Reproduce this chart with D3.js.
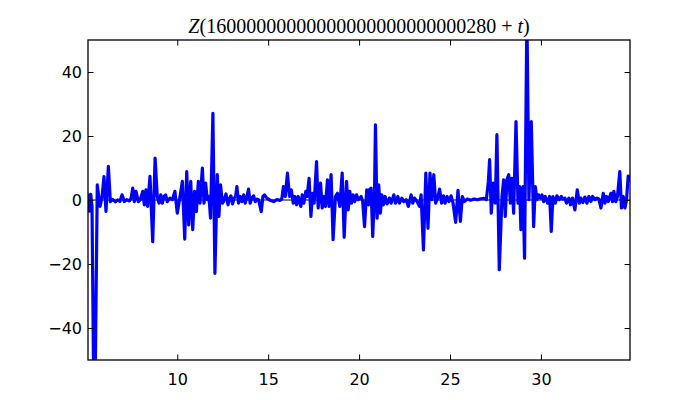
<!DOCTYPE html>
<html>
<head>
<meta charset="utf-8">
<script src="https://cdn.jsdelivr.net/npm/d3@7"></script>
<style>
  html, body { margin: 0; padding: 0; background: #fff; }
  svg { display: block; }
</style>
</head>
<body>
<svg id="chart" width="700" height="400"></svg>
<script>
// ---- data ----
const titleDigits = "16000000000000000000000000280";
const xTicks = [10, 15, 20, 25, 30];
const yTicks = [-40, -20, 0, 20, 40];
const xDomain = [5.09, 34.9];
const yDomain = [-50, 50];

const tValues = [
  5.09, 5.17, 5.24, 5.31, 5.44, 5.60, 5.75, 5.86, 5.97, 6.08, 6.21, 6.32, 6.45, 6.60, 6.72, 6.85, 6.96, 7.09, 7.22, 7.37,
  7.46, 7.55, 7.64, 7.73, 7.86, 7.97, 8.10, 8.19, 8.28, 8.37, 8.50, 8.65, 8.78,
  8.90, 9.00, 9.09, 9.18, 9.27, 9.36, 9.45, 9.59, 9.73, 9.87, 10.00, 10.15, 10.28, 10.41, 10.52, 10.63, 10.74, 10.85,
  10.95, 11.05, 11.16, 11.25, 11.38, 11.47, 11.56, 11.65, 11.74, 11.83, 11.96, 12.07, 12.20, 12.29, 12.38, 12.48,
  12.55, 12.68, 12.79, 12.86, 12.95, 13.04, 13.13, 13.21, 13.28, 13.37, 13.46, 13.56, 13.65, 13.74, 13.83, 13.92,
  14.01, 14.10, 14.20, 14.29, 14.38, 14.47, 14.62, 14.71, 14.80, 14.93, 15.11, 15.30, 15.48, 15.66, 15.75, 15.84,
  15.94, 16.06, 16.17, 16.27,
  16.38, 16.47, 16.56, 16.65, 16.74, 16.80, 16.87, 16.96, 17.07, 17.14, 17.25, 17.35, 17.44, 17.53, 17.66, 17.75,
  17.88, 17.97, 18.06, 18.15, 18.26, 18.35, 18.46, 18.57, 18.70, 18.81, 18.94, 19.07, 19.18, 19.31, 19.40, 19.49,
  19.58, 19.67, 19.76, 19.86, 19.95,
  20.11, 20.20, 20.30, 20.42, 20.52, 20.57, 20.66, 20.75, 20.85, 20.90, 20.99, 21.08, 21.17, 21.25, 21.34, 21.43,
  21.54, 21.67, 21.76, 21.91, 22.00, 22.13, 22.22, 22.35, 22.46, 22.59, 22.71, 22.86, 22.95, 23.04, 23.19, 23.32,
  23.41, 23.54, 23.67, 23.79,
  23.90, 24.00, 24.11, 24.21, 24.32, 24.43, 24.54, 24.64, 24.73, 24.84, 24.95, 25.06, 25.17, 25.31, 25.44, 25.57,
  25.68, 25.79, 25.95, 26.14, 26.32, 26.50, 26.69, 26.87, 27.00, 27.11, 27.18, 27.27, 27.38, 27.49,
  27.58, 27.71, 27.86, 27.95, 28.04, 28.13, 28.23, 28.32, 28.41, 28.50, 28.63, 28.74, 28.83, 28.90, 29.01, 29.10,
  29.23, 29.34, 29.47, 29.60, 29.69, 29.78, 29.87, 29.97, 30.06, 30.15, 30.24, 30.37, 30.48, 30.57, 30.66, 30.79,
  30.88, 31.01, 31.12, 31.21,
  31.32, 31.41, 31.54, 31.63, 31.74, 31.87, 32.00, 32.11, 32.20, 32.31, 32.42, 32.53, 32.64, 32.75, 32.84, 32.97,
  33.08, 33.19, 33.30, 33.43, 33.52, 33.61, 33.70, 33.85, 33.94, 34.01, 34.12, 34.21, 34.34, 34.43, 34.53, 34.62,
  34.71, 34.80, 34.90
];

const zValues = [
  1.5, -3.5, 1.8, -2.0, -80, 4.7, -2.0, 0.8, 7.3, -3.6, 10.5, -0.5, 0.2, -0.6, 0.0, -0.4, 1.6, -0.5, 0.1, -0.3,
  0.5, 3.7, -0.5, 2.7, -0.5, 0.2, 2.7, -1.5, 3.2, -2.0, 7.4, -13.0, 13.1,
  1.1, -1.0, 1.6, -1.0, 1.1, 1.6, -0.5, 0.6, 0.1, 2.7, -4.1, 1.1, 5.8, -12.2, 8.9, -7.8, 5.8, -9.3,
  2.7, -3.6, 5.8, -1.0, 10.0, -1.0, 5.3, 0.1, 1.1, -5.7, 27.1, -22.9, 7.9, -5.1, 4.7, -1.0,
  -0.5, 1.9, -1.5, 0.3, 1.3, -1.2, 0.6, 1.1, 4.2, -1.0, 1.1, -0.5, 1.6, -1.0, 0.9, 3.4,
  -1.0, 0.6, 1.3, -0.5, 0.3, 0.1, -3.6, 1.1, 1.6, 0.6, -0.1, -0.5, 0.1, -0.1, 0.3, 4.2,
  1.1, 8.4, 1.1, 3.2,
  -1.0, 1.1, -1.5, 1.1, -1.0, -2.0, 1.6, -1.0, 2.7, 1.1, 6.8, -5.1, 2.1, -1.0, 12.0, -2.5,
  5.3, -2.5, 1.1, -2.0, 6.3, -2.0, 7.9, -12.4, 1.1, 2.1, -2.0, 8.4, -11.6, 5.8, -3.1, 2.7,
  -1.0, 1.6, -0.5, 1.6, 0.1,
  1.1, -0.5, -8.3, 3.2, -1.5, 3.2, 3.7, -11.4, 2.7, 23.5, -5.7, 4.7, -4.1, 1.6, -1.5, 1.1,
  -1.2, 0.6, -1.0, 1.6, -1.0, 1.1, -1.0, 0.6, -0.5, 0.1, -2.0, 1.6, -1.0, 0.6, -0.5, -2.0,
  1.6, -15.6, 8.4, -8.8,
  8.4, 0.1, 7.9, -1.0, 0.6, 3.4, -1.0, 1.3, -1.0, 1.1, -0.5, 1.3, -1.0, -7.0, 3.0, -6.7,
  1.1, -0.5, 0.3, -0.1, 0.3, 0.1, 0.4, 0.5, 0.1, 5.8, 12.6, -4.1, 5.3, -1.0,
  20.4, -21.8, 1.1, 6.3, -5.1, 6.3, 7.9, -1.0, 6.8, -4.1, 24.5, -1.0, 4.2, -9.3, 4.2, -18.2,
  58, 0.1, 24.5, -8.3, 4.2, 0.1, 1.6, 0.6, 1.6, -0.5, 1.1, -1.0, 1.1, -9.8, 1.1, -1.0,
  1.3, 0.1, 1.1, 0.3,
  0.6, -1.0, 0.6, -1.5, 0.6, -3.1, 3.2, -1.0, 0.6, -0.8, 0.9, -1.0, 1.1, -0.5, 1.1, 0.1,
  0.6, 0.3, -2.5, 2.1, -1.0, 1.1, -0.5, 2.1, -0.5, 2.7, -0.5, 1.1, 8.9, -2.5, 1.1, -2.5,
  0.1, 7.5, 6.0
];

// ---- layout ----
const W = 700, H = 400;
const margin = { left: 88, right: 70, top: 40, bottom: 40 };
const pw = W - margin.left - margin.right;   // 542
const ph = H - margin.top - margin.bottom;   // 320

const svg = d3.select("#chart");
const x = d3.scaleLinear().domain(xDomain).range([margin.left, margin.left + pw]);
const y = d3.scaleLinear().domain(yDomain).range([margin.top + ph, margin.top]);

svg.append("rect").attr("width", W).attr("height", H).attr("fill", "#fff");

svg.append("defs").append("clipPath").attr("id", "clip")
  .append("rect").attr("x", margin.left).attr("y", margin.top).attr("width", pw).attr("height", ph);

const pts = tValues.map((t, i) => [t, zValues[i]]);
const line = d3.line().x(d => x(d[0])).y(d => y(d[1]));

const plot = svg.append("g").attr("clip-path", "url(#clip)");

// zero line (beneath the curve)
plot.append("line")
  .attr("x1", margin.left).attr("x2", margin.left + pw)
  .attr("y1", y(0)).attr("y2", y(0))
  .attr("stroke", "#000").attr("stroke-width", 1);

plot.append("path").datum(pts)
  .attr("d", line)
  .attr("fill", "none")
  .attr("stroke", "#0000ff")
  .attr("stroke-width", 3.2)
  .attr("stroke-linejoin", "round")
  .attr("stroke-linecap", "round");

// ---- axes (ticks inward, on all four sides) ----
const fontAxis = "'DejaVu Sans', sans-serif";
const tickLen = 5.5;

const axB = d3.axisBottom(x).tickValues(xTicks).tickSizeInner(-tickLen).tickSizeOuter(0).tickPadding(14);
const axT = d3.axisTop(x).tickValues(xTicks).tickSizeInner(-tickLen).tickSizeOuter(0).tickFormat("");
const axL = d3.axisLeft(y).tickValues(yTicks).tickSizeInner(-tickLen).tickSizeOuter(0).tickPadding(6)
  .tickFormat(d => d < 0 ? "\u2212" + Math.abs(d) : String(d));
const axR = d3.axisRight(y).tickValues(yTicks).tickSizeInner(-tickLen).tickSizeOuter(0).tickFormat("");

function styleAxis(g) {
  g.select(".domain").remove();
  g.selectAll(".tick line").attr("stroke", "#000").attr("stroke-width", 1);
  g.selectAll(".tick text").attr("fill", "#000").style("font-family", fontAxis).style("font-size", "16px");
}
svg.append("g").attr("transform", `translate(0,${margin.top + ph})`).call(axB).call(styleAxis);
svg.append("g").attr("transform", `translate(0,${margin.top})`).call(axT).call(styleAxis);
svg.append("g").attr("transform", `translate(${margin.left},0)`).call(axL).call(styleAxis);
svg.append("g").attr("transform", `translate(${margin.left + pw},0)`).call(axR).call(styleAxis);

// frame
svg.append("rect")
  .attr("x", margin.left).attr("y", margin.top).attr("width", pw).attr("height", ph)
  .attr("fill", "none").attr("stroke", "#000").attr("stroke-width", 1.3);

// ---- title ----
const title = svg.append("text")
  .attr("x", margin.left + pw / 2).attr("y", 33)
  .attr("text-anchor", "middle")
  .style("font-family", "'Liberation Serif', 'DejaVu Serif', serif")
  .style("font-size", "20px")
  .attr("fill", "#000");
title.append("tspan").style("font-style", "italic").text("Z");
title.append("tspan").text("(" + titleDigits + " + ");
title.append("tspan").style("font-style", "italic").text("t");
title.append("tspan").text(")");
</script>
</body>
</html>
